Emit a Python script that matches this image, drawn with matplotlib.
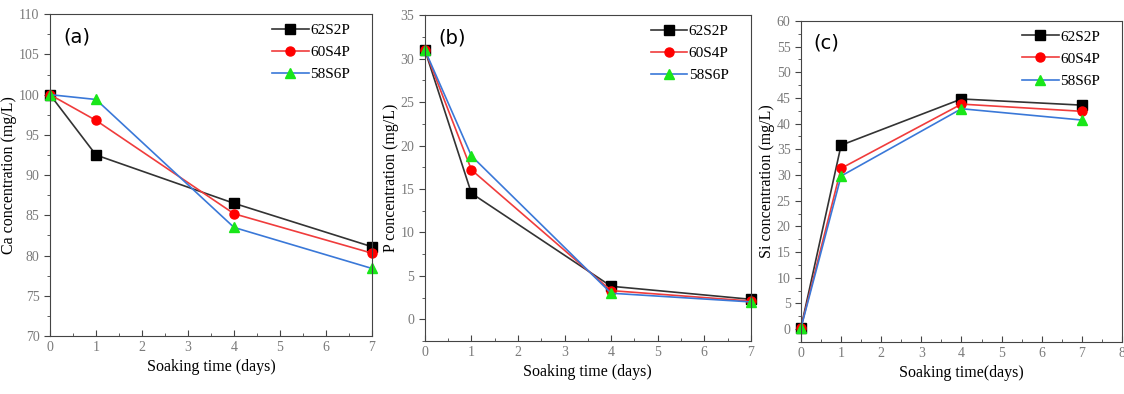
import numpy as np
import matplotlib.pyplot as plt
from matplotlib.ticker import AutoMinorLocator

days = [0, 1, 4, 7]
labels = ['62S2P', '60S4P', '58S6P']

ca_62 = [100, 92.5, 86.5, 81.1]
ca_60 = [100, 96.8, 85.2, 80.3]
ca_58 = [100, 99.4, 83.5, 78.4]

p_62 = [31.0, 14.5, 3.8, 2.3]
p_60 = [31.0, 17.2, 3.3, 2.1]
p_58 = [31.0, 18.8, 3.0, 2.0]

si_62 = [0.3, 35.8, 44.8, 43.6]
si_60 = [0.3, 31.3, 43.8, 42.4]
si_58 = [0.2, 29.8, 42.9, 40.7]

plt.rcParams['font.family'] = ['Liberation Serif', 'DejaVu Serif']

fig = plt.figure(figsize=(11.24, 3.94), dpi=100)

line_cols = ['#333333', '#f03c3c', '#3a78d8']
mk_cols = ['black', 'red', '#19e619']
mks = ['s', 'o', '^']


def panel(rect, series, ylim, yticks, xlim, xticks, ylabel, xlabel, tag):
    ax = fig.add_axes(rect)
    for y, lc, mc, m, lab in zip(series, line_cols, mk_cols, mks, labels):
        ax.plot(days, y, color=lc, lw=1.2, marker=m, markersize=6.5,
                markerfacecolor=mc, markeredgecolor=mc, label=lab, clip_on=False)
    ax.set_xlim(*xlim)
    ax.set_ylim(*ylim)
    ax.set_xticks(xticks)
    ax.set_yticks(yticks)
    ax.xaxis.set_minor_locator(AutoMinorLocator(2))
    ax.yaxis.set_minor_locator(AutoMinorLocator(2))
    ax.tick_params(which='both', colors='#444444', labelcolor='#7a7a7a', labelsize=10)
    ax.tick_params(axis='x', which='both', direction='in')
    ax.tick_params(axis='y', which='both', direction='out')
    ax.tick_params(which='major', length=4)
    ax.tick_params(which='minor', length=2.5)
    for s in ax.spines.values():
        s.set_color('#444444')
    ax.set_ylabel(ylabel, fontsize=11.5, labelpad=1)
    ax.set_xlabel(xlabel, fontsize=11.5)
    ax.text(0.04, 0.96, tag, transform=ax.transAxes, fontsize=14, va='top',
            family='DejaVu Sans')
    ax.legend(loc='upper right', frameon=False, fontsize=11, handlelength=2.4,
              handletextpad=0.1, borderaxespad=0.2, labelspacing=0.55,
              bbox_to_anchor=(0.96, 1.0))
    return ax


panel([0.0445, 0.147, 0.2865, 0.817], [ca_62, ca_60, ca_58], (70, 110),
      np.arange(70, 111, 5), (0, 7), range(8),
      'Ca concentration (mg/L)', 'Soaking time (days)', '(a)')
panel([0.378, 0.1345, 0.29, 0.827], [p_62, p_60, p_58], (-2.5, 35),
      np.arange(0, 36, 5), (0, 7), range(8),
      'P concentration (mg/L)', 'Soaking time (days)', '(b)')
panel([0.7126, 0.132, 0.2856, 0.815], [si_62, si_60, si_58], (-2.5, 60),
      np.arange(0, 61, 5), (0, 8), range(9),
      'Si concentration (mg/L)', 'Soaking time(days)', '(c)')

fig.savefig('out.png', dpi=100)
